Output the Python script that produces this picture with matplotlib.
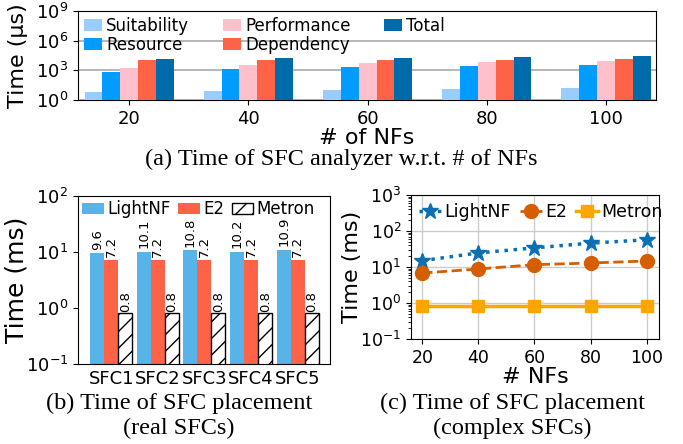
import numpy as np
import matplotlib
matplotlib.use("Agg")
import matplotlib.pyplot as plt

# (a) SFC analyzer time (us) vs number of NFs
nfs_labels = ["20", "40", "60", "80", "100"]
suitability = [6.3, 8.7, 10, 12.8, 16]
resource = [710, 1320, 2100, 2650, 3400]
performance = [1660, 3300, 5300, 6700, 8700]
dependency = [10700, 10700, 10700, 10700, 13800]
total = [13500, 17000, 17000, 21300, 28000]

# (b) SFC placement time (ms), real SFCs
sfc_labels = ["SFC1", "SFC2", "SFC3", "SFC4", "SFC5"]
lightnf_real = [9.6, 10.1, 10.8, 10.2, 10.9]
e2_real = [7.2, 7.2, 7.2, 7.2, 7.2]
metron_real = [0.8, 0.8, 0.8, 0.8, 0.8]

# (c) SFC placement time (ms), complex SFCs
nfs = [20, 40, 60, 80, 100]
lightnf_cplx = [15, 24.6, 34, 46, 57]
e2_cplx = [6.8, 8.8, 11.6, 12.9, 14.7]
metron_cplx = [0.8, 0.8, 0.8, 0.8, 0.8]

plt.rcParams["font.family"] = "DejaVu Sans"
plt.rcParams["hatch.linewidth"] = 1.0
serif = "Liberation Serif"

fig = plt.figure(figsize=(6.83, 4.44), dpi=100)

# ---- (a) ----
ax1 = fig.add_axes([0.1142, 0.7748, 0.8463, 0.2005])
x = np.arange(len(nfs_labels))
w = 0.15
series = [
    ("Suitability", suitability, "#99ccff"),
    ("Resource", resource, "#009cff"),
    ("Performance", performance, "#ffc0cb"),
    ("Dependency", dependency, "#ff6347"),
    ("Total", total, "#006bab"),
]
for i, (name, vals, col) in enumerate(series):
    ax1.bar(x + (i - 2) * w, vals, w, color=col, label=name, zorder=3)
ax1.set_yscale("log")
ax1.set_ylim(1, 1e9)
ax1.set_yticks([1, 1e3, 1e6, 1e9])
ax1.minorticks_off()
ax1.set_xlim(-0.43, 4.42)
ax1.set_xticks(x)
ax1.set_xticklabels(nfs_labels)
ax1.tick_params(labelsize=13)
ax1.yaxis.grid(True, color="#aaaaaa", linewidth=1.2, zorder=0)
ax1.set_axisbelow(True)
ax1.set_ylabel("Time (µs)", fontsize=16)
ax1.yaxis.set_label_coords(-0.087, 0.5)
ax1.set_xlabel("# of NFs", fontsize=16, labelpad=0)
ax1.legend(loc="upper left", bbox_to_anchor=(0, 1), ncol=3, frameon=False,
           fontsize=12, borderaxespad=0, borderpad=0.35, labelspacing=0.05,
           handlelength=1.1, handleheight=0.72, handletextpad=0.25,
           columnspacing=2.0)

# ---- (b) ----
ax2 = fig.add_axes([0.1142, 0.1802, 0.369, 0.3784])
xb = np.arange(len(sfc_labels))
bw = 0.3
b1 = ax2.bar(xb - bw, lightnf_real, bw, color="#56b4e9", label="LightNF")
b2 = ax2.bar(xb, e2_real, bw, color="#ff6347", label="E2")
b3 = ax2.bar(xb + bw, metron_real, bw, color="white", edgecolor="black",
             hatch="//", linewidth=1, label="Metron")
# value labels on top of the bars
for bars, vals, lift in [(b1, lightnf_real, 2.5), (b2, e2_real, 2.5),
                         (b3, metron_real, 0.7)]:
    for rect, v in zip(bars, vals):
        ax2.annotate(f"{v}", (rect.get_x() + rect.get_width() / 2, v),
                     xytext=(0, lift), textcoords="offset points",
                     rotation=90, ha="center", va="bottom", fontsize=9.5)
ax2.set_yscale("log")
ax2.set_ylim(0.1, 100)
ax2.minorticks_off()
ax2.set_xlim(-0.71, 4.69)
ax2.set_xticks(xb)
ax2.set_xticklabels(sfc_labels)
ax2.tick_params(axis="x", length=0, pad=4)
ax2.tick_params(labelsize=13)
ax2.set_ylabel("Time (ms)", fontsize=18)
ax2.yaxis.set_label_coords(-0.198, 0.5)
ax2.legend(loc="upper left", bbox_to_anchor=(0, 1), ncol=3, frameon=False,
           fontsize=12, borderaxespad=0, borderpad=0.25, labelspacing=0.1,
           handlelength=1.3, handleheight=0.66, handletextpad=0.2,
           columnspacing=0.45)

# ---- (c) ----
ax3 = fig.add_axes([0.6018, 0.2365, 0.3631, 0.3243])
ax3.plot(nfs, lightnf_cplx, linestyle=":", color="#0a6fb3", marker="*",
         markersize=12, linewidth=2.5, label="LightNF")
ax3.plot(nfs, e2_cplx, linestyle="--", color="#d55e00", marker="o",
         markersize=10, linewidth=2, label="E2")
ax3.plot(nfs, metron_cplx, linestyle="-", color="#ffa500", marker="s",
         markersize=9, linewidth=2.5, label="Metron")
ax3.set_yscale("log")
ax3.set_ylim(0.1, 1000)
ax3.set_xlim(16, 104.4)
ax3.set_xticks(nfs)
ax3.grid(True, color="#cccccc", linewidth=1)
ax3.tick_params(labelsize=12.5)
ax3.set_xlabel("# NFs", fontsize=16, labelpad=0)
ax3.set_ylabel("Time (ms)", fontsize=16)
ax3.yaxis.set_label_coords(-0.198, 0.5)
ax3.legend(loc="upper left", bbox_to_anchor=(0, 1), ncol=3, frameon=False,
           fontsize=12.5, borderaxespad=0, borderpad=0.45, labelspacing=0.1,
           handlelength=1.3, handletextpad=0.17, columnspacing=0.5)

# ---- captions ----
fig.text(0.5, 1 - 159 / 444, "(a) Time of SFC analyzer w.r.t. # of NFs",
         ha="center", va="center", family=serif, fontsize=17.5)
fig.text(179 / 683, 1 - 403 / 444, "(b) Time of SFC placement",
         ha="center", va="center", family=serif, fontsize=17.5)
fig.text(179 / 683, 1 - 428 / 444, "(real SFCs)",
         ha="center", va="center", family=serif, fontsize=17.5)
fig.text(512 / 683, 1 - 403 / 444, "(c) Time of SFC placement",
         ha="center", va="center", family=serif, fontsize=17.5)
fig.text(512 / 683, 1 - 428 / 444, "(complex SFCs)",
         ha="center", va="center", family=serif, fontsize=17.5)

fig.savefig("out.png", dpi=100)
